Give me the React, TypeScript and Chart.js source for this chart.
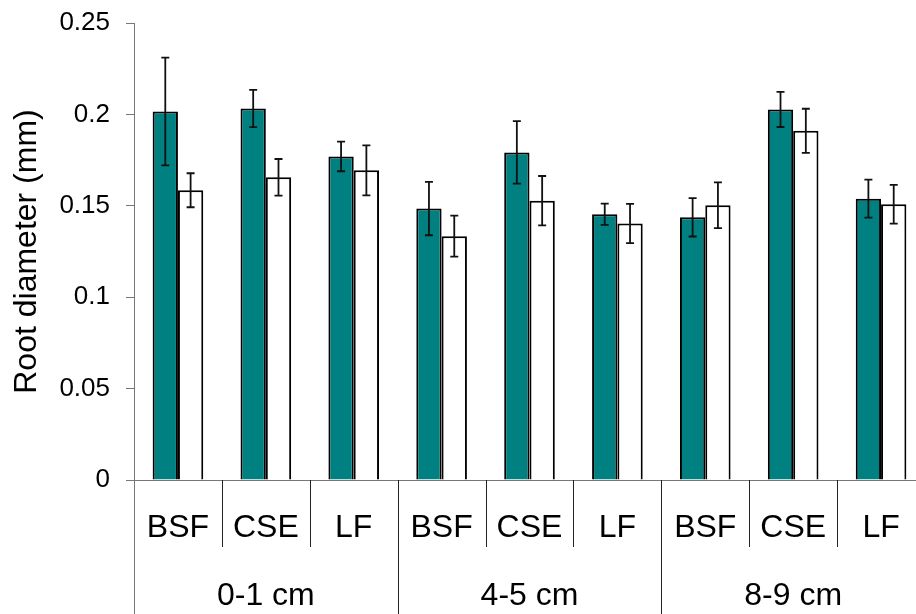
import React, { useEffect, useRef } from 'react';
import { Chart, registerables } from 'chart.js';
Chart.register(...registerables);

const sites = ['BSF', 'CSE', 'LF', 'BSF', 'CSE', 'LF', 'BSF', 'CSE', 'LF'];
const depths = ['0-1 cm', '4-5 cm', '8-9 cm'];
const tealValues = [0.2016, 0.2032, 0.177, 0.1485, 0.1792, 0.1454, 0.1437, 0.2027, 0.1539];
const tealErrors = [0.0295, 0.0102, 0.0081, 0.0146, 0.0171, 0.0058, 0.0105, 0.0096, 0.0104];
const whiteValues = [0.1585, 0.1656, 0.1694, 0.1334, 0.1528, 0.1403, 0.1503, 0.191, 0.1508];
const whiteErrors = [0.0093, 0.01, 0.0137, 0.0112, 0.0135, 0.0107, 0.0125, 0.0121, 0.0106];
const yAxisTitle = 'Root diameter (mm)';

const FONT = "'Liberation Sans', Arial, Helvetica, sans-serif";
const AXIS_GRAY = '#777777';

const overlay = {
  id: 'overlay',
  afterDatasetsDraw(chart: any) {
    const ctx = chart.ctx;
    const xs = chart.scales.x;
    const ys = chart.scales.y;
    ctx.save();
    // error bars
    const errSets: [number, number[]][] = [[0, tealErrors], [1, whiteErrors]];
    errSets.forEach(([di, errs]) => {
      const meta = chart.getDatasetMeta(di);
      const vals = chart.data.datasets[di].data as number[];
      meta.data.forEach((bar: any, i: number) => {
        const cx = bar.x;
        const top = ys.getPixelForValue(vals[i] + errs[i]);
        const bot = ys.getPixelForValue(vals[i] - errs[i]);
        ctx.strokeStyle = '#111';
        ctx.lineWidth = 1.8;
        ctx.beginPath();
        ctx.moveTo(cx, top);
        ctx.lineTo(cx, bot);
        ctx.moveTo(cx - 4, top);
        ctx.lineTo(cx + 4, top);
        ctx.moveTo(cx - 4, bot);
        ctx.lineTo(cx + 4, bot);
        ctx.stroke();
      });
    });
    // separators
    const n = sites.length;
    const base = ys.bottom;
    for (let i = 0; i <= n; i++) {
      let bx: number;
      if (i === 0) bx = xs.left;
      else if (i === n) bx = xs.right;
      else bx = (xs.getPixelForValue(i - 1) + xs.getPixelForValue(i)) / 2;
      const major = i % 3 === 0;
      ctx.strokeStyle = i === 0 ? AXIS_GRAY : '#222';
      ctx.lineWidth = 1;
      ctx.beginPath();
      const px = Math.round(bx) + 0.5;
      ctx.moveTo(px, base);
      ctx.lineTo(px, major ? chart.height : base + 67);
      ctx.stroke();
    }
    // labels
    ctx.fillStyle = '#000';
    ctx.textAlign = 'center';
    ctx.textBaseline = 'alphabetic';
    ctx.font = `32px ${FONT}`;
    sites.forEach((s, i) => {
      ctx.fillText(s, xs.getPixelForValue(i), base + 57);
    });
    depths.forEach((d, g) => {
      const cx = (xs.getPixelForValue(g * 3) + xs.getPixelForValue(g * 3 + 2)) / 2;
      ctx.fillText(d, cx, base + 125);
    });
    ctx.restore();
  },
};

export default function App() {
  const ref = useRef<HTMLCanvasElement>(null);
  useEffect(() => {
    const chart = new Chart(ref.current as HTMLCanvasElement, {
      type: 'bar',
      data: {
        labels: sites,
        datasets: [
          {
            data: tealValues,
            backgroundColor: '#008080',
            borderColor: '#000',
            borderWidth: 2,
            categoryPercentage: 0.576,
            barPercentage: 1,
          },
          {
            data: whiteValues,
            backgroundColor: '#ffffff',
            borderColor: '#000',
            borderWidth: 2,
            categoryPercentage: 0.576,
            barPercentage: 1,
          },
        ],
      },
      options: {
        responsive: false,
        animation: false,
        devicePixelRatio: 1,
        layout: { padding: { left: 0, top: 23, right: 5, bottom: 0 } },
        plugins: { legend: { display: false }, tooltip: { enabled: false } },
        scales: {
          x: {
            offset: true,
            afterFit: (s: any) => {
              s.height = 134;
              s.paddingLeft = 0;
              s.paddingRight = 0;
            },
            ticks: { display: false },
            grid: { display: false },
            border: { display: true, color: AXIS_GRAY, width: 1 },
          },
          y: {
            min: 0,
            max: 0.25,
            afterFit: (s: any) => {
              s.width = 134;
              s.paddingTop = 0;
              s.paddingBottom = 0;
            },
            ticks: {
              stepSize: 0.05,
              color: '#000',
              padding: 16,
              font: { family: FONT, size: 26 },
              callback: (v: any) => String(Number(Number(v).toFixed(2))),
            },
            grid: {
              display: true,
              drawOnChartArea: false,
              drawTicks: true,
              tickLength: 8,
              color: AXIS_GRAY,
              lineWidth: 1,
            },
            border: { display: true, color: AXIS_GRAY, width: 1 },
            title: {
              display: true,
              text: yAxisTitle,
              color: '#000',
              font: { family: FONT, size: 32, lineHeight: 1 },
              padding: { top: 11, bottom: 0 },
            },
          },
        },
      },
      plugins: [overlay],
    } as any);
    return () => chart.destroy();
  }, []);
  return (
    <div
      style={{
        position: 'fixed',
        left: 0,
        top: 0,
        width: 916,
        height: 614,
        overflow: 'hidden',
        background: '#fff',
      }}
    >
      <canvas ref={ref} width={930} height={614} style={{ display: 'block', width: 930, height: 614 }} />
    </div>
  );
}
